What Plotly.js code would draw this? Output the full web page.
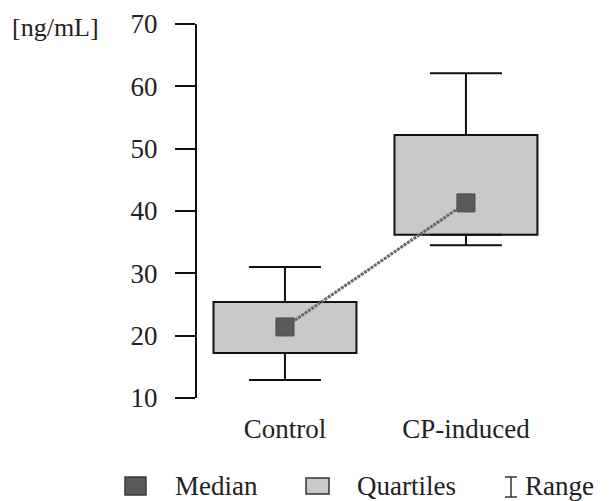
<!DOCTYPE html>
<html>
<head>
<meta charset="utf-8">
<script src="https://cdn.plot.ly/plotly-3.0.1.min.js"></script>
<style>html,body{margin:0;padding:0;background:#fff;}#chart{width:610px;height:501px;}
#pre{position:absolute;left:0;top:0;visibility:hidden;font-family:'Liberation Serif';font-size:27px}</style>
</head>
<body>
<div id="pre">Control 0123456789</div>
<div id="chart"></div>
<script>
// ---- data ----
var categories = ["Control", "CP-induced"];
var minVals    = [12.9, 34.5];
var q1Vals     = [17.2, 36.2];
var medianVals = [21.4, 41.3];
var q3Vals     = [25.4, 52.2];
var maxVals    = [31.0, 62.1];
var yTicks     = [10, 20, 30, 40, 50, 60, 70];
var unitLabel  = "[ng/mL]";
var legendLabels = ["Median", "Quartiles", "Range"];

// ---- layout geometry ----
var W = 610, H = 501;
var M = {l: 197, r: 55, t: 24, b: 103};
var PW = W - M.l - M.r, PH = H - M.t - M.b;
function px(x) { return (x - M.l) / PW; }
function py(y) { return (H - M.b - y) / PH; }

var serifFamily = "Liberation Serif";
var txtColor = "#222";

var boxHeights = q3Vals.map(function (v, i) { return v - q1Vals[i]; });
var upper = maxVals.map(function (v, i) { return v - q3Vals[i]; });
var lower = q1Vals.map(function (v, i) { return v - minVals[i]; });
var zeros = categories.map(function () { return 0; });

var traces = [
  {
    type: "bar", x: categories, y: boxHeights, base: q1Vals, width: 0.79,
    marker: {color: "#c9c9c9", line: {color: "#111", width: 2}},
    hoverinfo: "skip", showlegend: false
  },
  {
    type: "scatter", mode: "markers", x: categories, y: q3Vals,
    marker: {size: 1, color: "rgba(0,0,0,0)"},
    error_y: {type: "data", symmetric: false, array: upper, arrayminus: zeros,
              width: 36, thickness: 2, color: "#111"},
    hoverinfo: "skip", showlegend: false
  },
  {
    type: "scatter", mode: "markers", x: categories, y: q1Vals,
    marker: {size: 1, color: "rgba(0,0,0,0)"},
    error_y: {type: "data", symmetric: false, array: zeros, arrayminus: lower,
              width: 36, thickness: 2, color: "#111"},
    hoverinfo: "skip", showlegend: false
  },
  {
    type: "scatter", mode: "lines+markers", x: categories, y: medianVals,
    line: {color: "#686868", width: 3, dash: "3px,1px"},
    marker: {symbol: "square", size: 18, color: "#5a5a5a", line: {color: "#4c4c4c", width: 1}},
    showlegend: false
  }
];

var shapes = [
  {type: "rect", xref: "paper", yref: "paper", x0: px(125), x1: px(146), y0: py(495), y1: py(477),
   fillcolor: "#5a5a5a", line: {color: "#3a3a3a", width: 1.5}},
  {type: "rect", xref: "paper", yref: "paper", x0: px(306), x1: px(329), y0: py(494), y1: py(478),
   fillcolor: "#c9c9c9", line: {color: "#333", width: 1.5}},
  {type: "line", xref: "paper", yref: "paper", x0: px(511), x1: px(511), y0: py(497), y1: py(477),
   line: {color: "#333", width: 1.5}},
  {type: "line", xref: "paper", yref: "paper", x0: px(505), x1: px(517), y0: py(477), y1: py(477),
   line: {color: "#333", width: 1.5}},
  {type: "line", xref: "paper", yref: "paper", x0: px(505), x1: px(517), y0: py(497), y1: py(497),
   line: {color: "#333", width: 1.5}}
];

var annotations = [
  {xref: "paper", yref: "paper", x: px(10), y: py(27), xanchor: "left", yanchor: "middle",
   text: unitLabel, showarrow: false, font: {family: serifFamily, size: 26, color: txtColor}},
  {xref: "paper", yref: "paper", x: px(173), y: py(486), xanchor: "left", yanchor: "middle",
   text: legendLabels[0], showarrow: false, font: {family: serifFamily, size: 27, color: txtColor}},
  {xref: "paper", yref: "paper", x: px(355), y: py(486), xanchor: "left", yanchor: "middle",
   text: legendLabels[1], showarrow: false, font: {family: serifFamily, size: 27, color: txtColor}},
  {xref: "paper", yref: "paper", x: px(523), y: py(486), xanchor: "left", yanchor: "middle",
   text: legendLabels[2], showarrow: false, font: {family: serifFamily, size: 27, color: txtColor}}
];

var layout = {
  width: W, height: H,
  margin: M,
  paper_bgcolor: "#fff", plot_bgcolor: "#fff",
  showlegend: false,
  xaxis: {
    type: "category", categoryarray: categories, range: [-0.486, 1.492],
    showline: false, showgrid: false, zeroline: false, ticks: "",
    ticklabelstandoff: 12,
    tickfont: {family: serifFamily, size: 27, color: txtColor}, fixedrange: true
  },
  yaxis: {
    range: [10, 70], tickvals: yTicks, ticktext: yTicks.map(String),
    showline: true, linecolor: "#111", linewidth: 2,
    ticks: "outside", ticklen: 20, tickwidth: 2, tickcolor: "#111",
    ticklabelstandoff: 12,
    showgrid: false, zeroline: false,
    tickfont: {family: serifFamily, size: 27, color: txtColor}, fixedrange: true
  },
  shapes: shapes,
  annotations: annotations
};

Plotly.newPlot("chart", traces, layout, {displayModeBar: false, staticPlot: true});
</script>
</body>
</html>
